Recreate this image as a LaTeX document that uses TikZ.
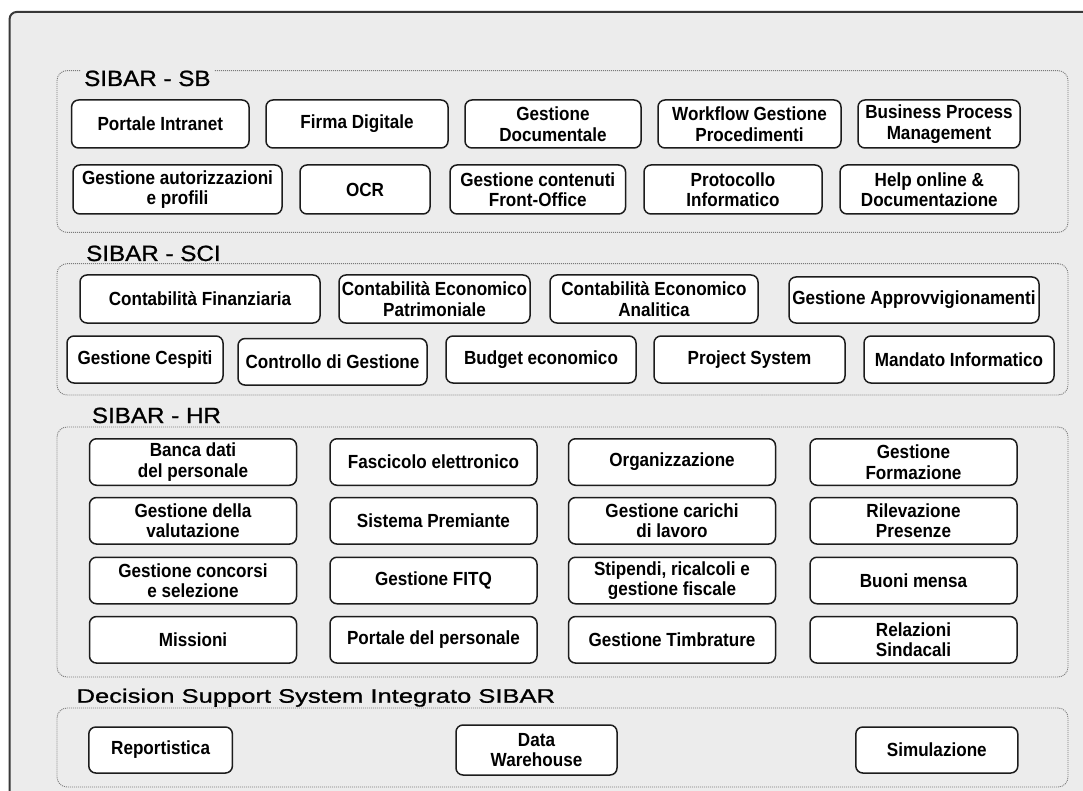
\documentclass[tikz,border=0pt]{standalone}
\usepackage{fontspec}
\setmainfont{Liberation Sans}
\newfontfamily\boxfont[FakeStretch=0.9]{Liberation Sans Bold}
\newfontfamily\titfont[FakeStretch=1.1,FakeBold=1.0]{Liberation Sans}
\newfontfamily\dssfont[FakeStretch=1.31,FakeBold=1.0]{Liberation Sans}
\definecolor{bgcol}{HTML}{ECECEC}
\definecolor{framecol}{HTML}{383838}
\definecolor{grpline}{HTML}{7A7A7A}
\definecolor{boxline}{HTML}{1C1C1C}
\tikzset{
  mod/.style={draw=boxline, fill=white, rounded corners=7pt, line width=1.5pt,
    inner sep=0pt, align=center, font=\boxfont\fontsize{19}{20.5}\selectfont},
  grp/.style={draw=grpline, dash pattern=on 1pt off 1pt, line width=0.9pt,
    rounded corners=10pt, inner sep=0pt},
  tit/.style={anchor=base west, inner xsep=3pt, inner ysep=1pt, fill=bgcol,
    font=\titfont\fontsize{22}{24}\selectfont},
  dsstit/.style={anchor=base west, inner xsep=0pt, inner ysep=1pt,
    font=\dssfont\fontsize{19.5}{22}\selectfont}
}
\begin{document}
\begin{tikzpicture}[x=1pt,y=-1pt]
\useasboundingbox (0,0) rectangle (1083,791);
\clip (0,0) rectangle (1083,791);
\fill[white] (0,0) rectangle (1083,791);
\fill[bgcol, rounded corners=7pt] (9.6,12) rectangle (1110,820);
\draw[framecol, line width=2pt, rounded corners=7pt] (9.6,820) -- (9.6,12) -- (1110,12);

% groups
\node[grp, minimum width=1011pt, minimum height=161.8pt] (sb) at (562.5,151.5) {};
\node[grp, minimum width=1011pt, minimum height=131.3pt] (sci) at (562.5,329.35) {};
\node[grp, minimum width=1011pt, minimum height=250pt] (hr) at (562.5,552) {};
\node[grp, minimum width=1011pt, minimum height=79pt] (dss) at (562.5,747.5) {};

% titles
\node[tit] (tsb) at (81,86) {SIBAR - SB};
\node[tit] (tsci) at (83,261) {SIBAR - SCI};
\node[tit] (thr) at (88.7,423) {SIBAR - HR};
\node[dsstit] (tdss) at (76.4,702.7) {Decision Support System Integrato SIBAR};

% SB
\node[mod, minimum width=177.4pt, minimum height=48pt] (pi) at (160.3,124) {Portale Intranet};
\node[mod, minimum width=182pt, minimum height=48pt] (fd) at (357,124) {Firma Digitale};
\node[mod, minimum width=176pt, minimum height=48pt] (gd) at (553,124) {Gestione\\Documentale};
\node[mod, minimum width=183pt, minimum height=48pt] (wf) at (749.5,124) {Workflow Gestione\\Procedimenti};
\node[mod, minimum width=162pt, minimum height=48pt] (bpm) at (939,124) {Business Process\\Management};
\node[mod, minimum width=209pt, minimum height=49pt] (gap) at (177.5,189.5) {Gestione autorizzazioni\\e profili};
\node[mod, minimum width=130pt, minimum height=49pt] (ocr) at (365,189.5) {OCR};
\node[mod, minimum width=175.5pt, minimum height=49pt] (gc) at (537.8,189.5) {Gestione contenuti\\Front-Office};
\node[mod, minimum width=178pt, minimum height=49pt] (pin) at (733,189.5) {Protocollo\\Informatico};
\node[mod, minimum width=178.5pt, minimum height=49pt] (help) at (929.3,189.5) {Help online \&\\Documentazione};

% SCI
\node[mod, minimum width=240pt, minimum height=48pt] (cf) at (200,299) {Contabilità Finanziaria};
\node[mod, minimum width=191pt, minimum height=48pt] (cep) at (434.5,299) {Contabilità Economico\\Patrimoniale};
\node[mod, minimum width=208pt, minimum height=48pt] (cea) at (654,299) {Contabilità Economico\\Analitica};
\node[mod, minimum width=250pt, minimum height=46pt] (gapp) at (914,300) {Gestione Approvvigionamenti};
\node[mod, minimum width=156pt, minimum height=47pt] (cesp) at (145,359.5) {Gestione Cespiti};
\node[mod, minimum width=189pt, minimum height=46.5pt] (cdg) at (332.5,361.8) {Controllo di Gestione};
\node[mod, minimum width=190pt, minimum height=47pt] (be) at (541,359.5) {Budget economico};
\node[mod, minimum width=191pt, minimum height=47pt] (ps) at (749.5,359.5) {Project System};
\node[mod, minimum width=190pt, minimum height=47pt] (mi) at (959,359.5) {Mandato Informatico};

% HR
\tikzset{hrb/.style={mod, minimum width=207pt, minimum height=46.5pt}}
\node[hrb] (h11) at (193,462) {Banca dati\\del personale};
\node[hrb] (h12) at (433.5,462) {Fascicolo elettronico};
\node[hrb] (h13) at (672,462) {Organizzazione};
\node[hrb] (h14) at (913.5,462) {Gestione\\Formazione};
\node[hrb] (h21) at (193,520.8) {Gestione della\\valutazione};
\node[hrb] (h22) at (433.5,520.8) {Sistema Premiante};
\node[hrb] (h23) at (672,520.8) {Gestione carichi\\di lavoro};
\node[hrb] (h24) at (913.5,520.8) {Rilevazione\\Presenze};
\node[hrb] (h31) at (193,580.5) {Gestione concorsi\\e selezione};
\node[hrb] (h32) at (433.5,580.5) {Gestione FITQ};
\node[hrb] (h33) at (672,580.5) {Stipendi, ricalcoli e\\gestione fiscale};
\node[hrb] (h34) at (913.5,580.5) {Buoni mensa};
\node[hrb] (h41) at (193,639.8) {Missioni};
\node[hrb] (h42) at (433.5,639.8) {Portale del personale};
\node[hrb] (h43) at (672,639.8) {Gestione Timbrature};
\node[hrb] (h44) at (913.5,639.8) {Relazioni\\Sindacali};

% DSS
\node[mod, minimum width=143.6pt, minimum height=46pt] (rep) at (160.6,750) {Reportistica};
\node[mod, minimum width=161pt, minimum height=50pt] (dw) at (536.5,750) {Data\\Warehouse};
\node[mod, minimum width=162pt, minimum height=46pt] (sim) at (936.8,750) {Simulazione};
\end{tikzpicture}
\end{document}
